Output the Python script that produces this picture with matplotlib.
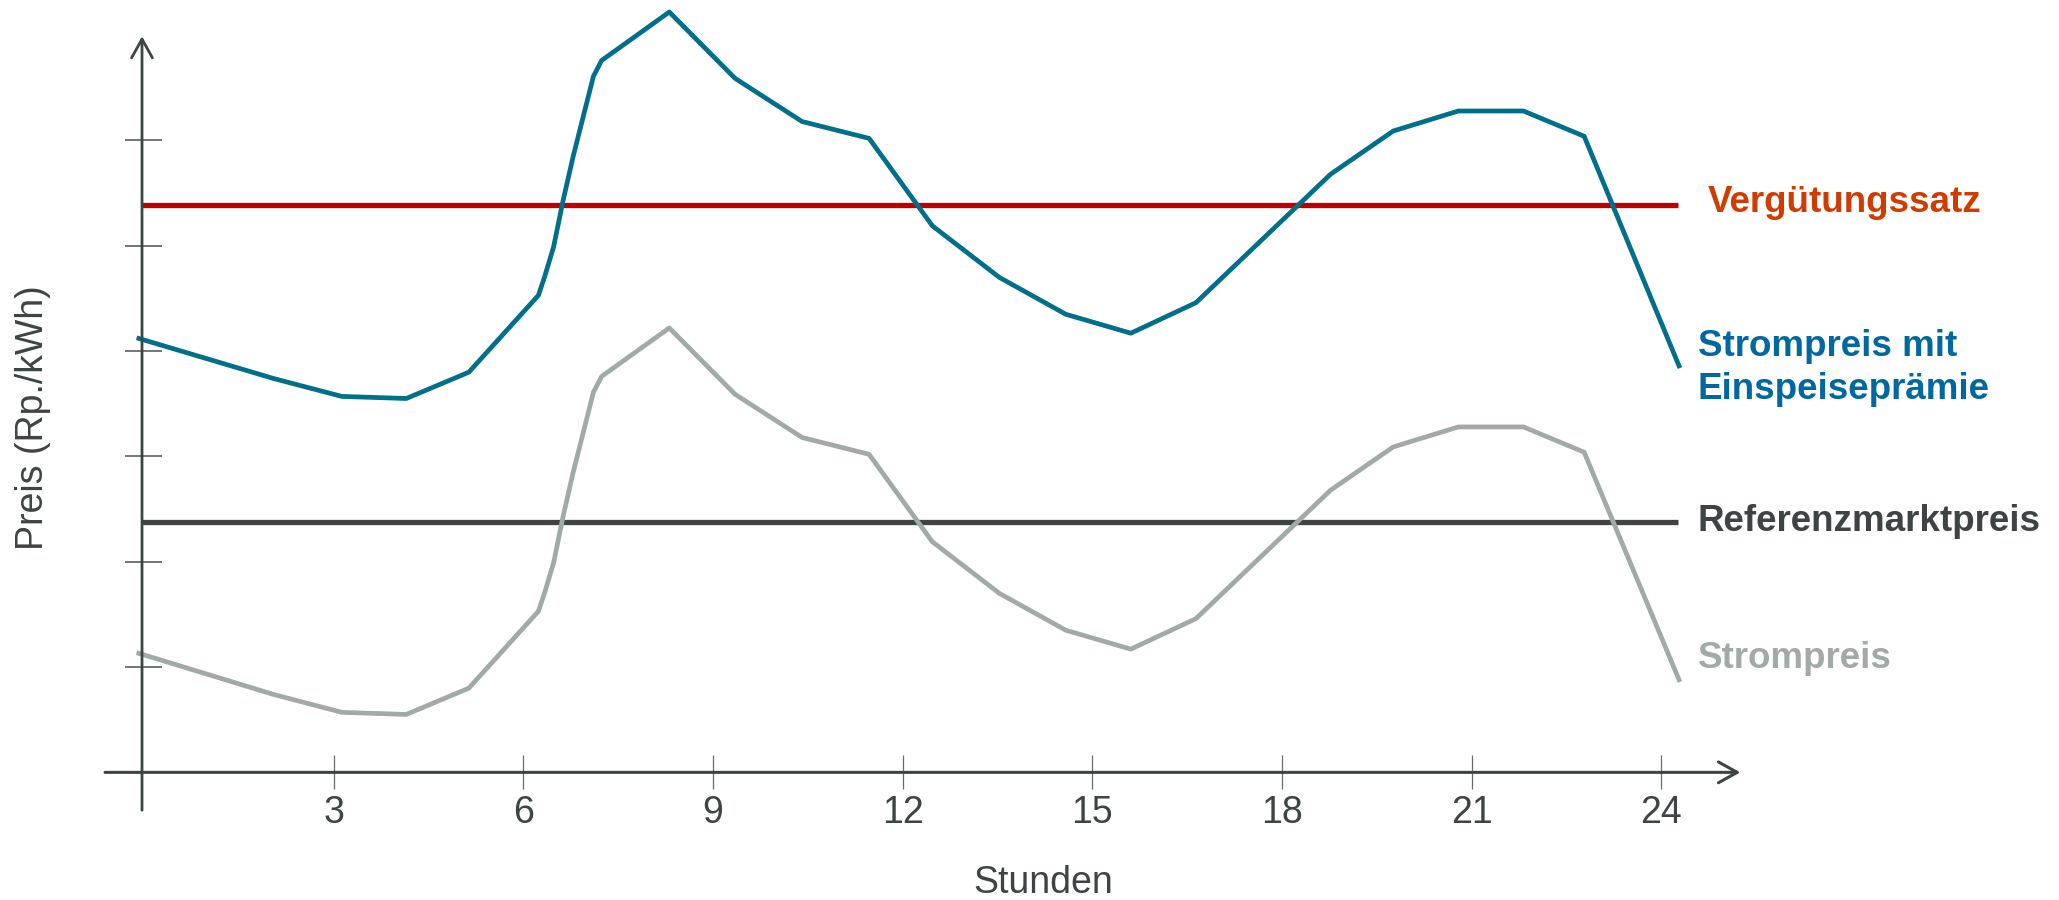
import matplotlib.pyplot as plt

# Stunden (x) und Preise (y, in Teilstrichen der y-Achse)
stunden = [-0.08, 2.05, 3.13, 4.15, 5.14, 6.24, 6.34, 6.48, 6.63, 6.79, 6.95, 7.11, 7.24,
           8.31, 9.35, 10.41, 11.47, 12.47, 13.53, 14.58, 15.61, 16.64, 18.77, 19.76,
           20.79, 21.82, 22.78, 24.28]
preis_praemie = [4.12, 3.74, 3.57, 3.55, 3.80, 4.53, 4.71, 4.99, 5.43, 5.85, 6.23, 6.61, 6.76,
                 7.22, 6.59, 6.18, 6.02, 5.19, 4.70, 4.35, 4.17, 4.46, 5.68, 6.09,
                 6.28, 6.28, 6.04, 3.86]
strompreis = [1.13, 0.74, 0.57, 0.55, 0.80, 1.53, 1.71, 1.99, 2.43, 2.85, 3.23, 3.61, 3.76,
              4.22, 3.59, 3.18, 3.02, 2.19, 1.70, 1.35, 1.17, 1.46, 2.68, 3.09,
              3.28, 3.28, 3.04, 0.88]
verguetungssatz = 5.385
referenzmarktpreis = 2.375
x_ticks = [3, 6, 9, 12, 15, 18, 21, 24]
y_ticks = [1, 2, 3, 4, 5, 6]
linie_start, linie_ende = -0.03, 24.27

# Farben
c_achse = '#3e4444'
c_teal = '#006f8a'
c_teal_text = '#0068a0'
c_rot = '#c00000'
c_rot_text = '#d13b00'
c_grau = '#a2aaa8'
c_dunkel = '#3e4444'

plt.rcParams['font.family'] = ['Liberation Sans', 'DejaVu Sans']

fig = plt.figure(figsize=(20.59, 9), dpi=100)
ax = fig.add_axes([0, 0, 1, 1])
ax.set_xlim(-2.276, 30.29)
ax.set_ylim(-1.212, 7.334)
ax.axis('off')

# Achsen mit Pfeilen
ax.annotate('', xy=(-0.03, 6.99), xytext=(-0.03, -0.36),
            arrowprops=dict(arrowstyle='->,head_length=0.45,head_width=0.25',
                            lw=2.0, color=c_achse, mutation_scale=30, shrinkA=0, shrinkB=0))
ax.annotate('', xy=(25.25, 0), xytext=(-0.615, 0),
            arrowprops=dict(arrowstyle='->,head_length=0.45,head_width=0.25',
                            lw=2.2, color=c_achse, mutation_scale=30, shrinkA=0, shrinkB=0))

# Teilstriche
for t in y_ticks:
    ax.plot([-0.3, 0.28], [t, t], color='#666b6b', lw=1.3, solid_capstyle='butt')
for t in x_ticks:
    ax.plot([t, t], [0.165, -0.16], color='#666b6b', lw=0.9, solid_capstyle='butt')
    ax.text(t, -0.39, str(t), ha='center', va='center', fontsize=27, color=c_achse)

# Horizontale Linien
ax.plot([linie_start, linie_ende], [verguetungssatz, verguetungssatz], color=c_rot, lw=3.8,
        solid_capstyle='butt')
ax.plot([linie_start, linie_ende], [referenzmarktpreis, referenzmarktpreis], color=c_dunkel,
        lw=3.8, solid_capstyle='butt')

# Preiskurven
ax.plot(stunden, strompreis, color=c_grau, lw=3.4, solid_joinstyle='round')
ax.plot(stunden, preis_praemie, color=c_teal, lw=3.4, solid_joinstyle='round')

# Beschriftungen rechts
ax.text(24.73, 5.41, 'Vergütungssatz', ha='left', va='center', fontsize=26.5,
        fontweight='bold', color=c_rot_text)
ax.text(24.58, 3.84, 'Strompreis mit\nEinspeiseprämie', ha='left', va='center',
        fontsize=26.5, fontweight='bold', color=c_teal_text, linespacing=1.32)
ax.text(24.58, 2.38, 'Referenzmarktpreis', ha='left', va='center', fontsize=26.5,
        fontweight='bold', color=c_dunkel)
ax.text(24.58, 1.08, 'Strompreis', ha='left', va='center', fontsize=26.5,
        fontweight='bold', color=c_grau)

# Achsentitel
ax.text(14.23, -1.05, 'Stunden', ha='center', va='center', fontsize=27, color=c_achse)
ax.text(-1.755, 3.37, 'Preis (Rp./kWh)', ha='center', va='center', rotation=90,
        fontsize=27, color=c_achse)

fig.savefig('out.png', dpi=100)
